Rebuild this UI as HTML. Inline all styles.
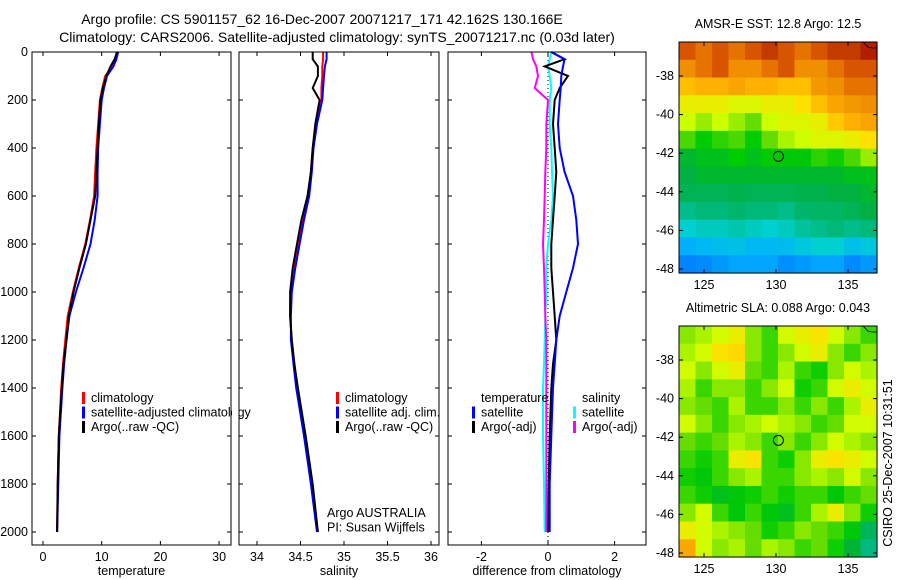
<!DOCTYPE html>
<html><head><meta charset="utf-8"><style>
body{margin:0;background:#fff;}
svg{display:block;font-family:"Liberation Sans",sans-serif;}
text{fill:#000;}
</style></head><body>
<svg id="fig" width="900" height="580" xmlns="http://www.w3.org/2000/svg">
<rect width="900" height="580" fill="#fff"/>
<text x="322" y="24" font-size="14" text-anchor="middle">Argo profile: CS 5901157_62 16-Dec-2007 20071217_171 42.162S 130.166E</text>
<text x="337" y="42" font-size="14" text-anchor="middle">Climatology: CARS2006. Satellite-adjusted climatology: synTS_20071217.nc (0.03d later)</text>
<g id="g"></g>
<text transform="translate(892,463) rotate(-90)" font-size="12.5" text-anchor="middle">CSIRO 25-Dec-2007 10:31:51</text>
</svg>
<script>
const depths=[0,30,60,100,150,200,300,400,500,600,700,800,900,1000,1100,1200,1300,1400,1600,1800,2000];
const tempClim=[12.6,12.3,11.8,10.6,10.1,9.7,9.4,9.1,8.9,8.7,8.0,7.2,6.1,5.1,4.2,3.8,3.4,3.1,2.7,2.5,2.4];
const tempSat=[12.8,12.5,12.0,10.9,10.4,10.0,9.7,9.4,9.3,9.3,8.8,8.1,6.9,5.6,4.5,4.0,3.6,3.3,2.8,2.6,2.4];
const tempArgo=[12.6,12.2,11.5,10.8,10.2,9.8,9.5,9.3,9.1,8.9,8.1,7.3,6.2,5.2,4.4,4.0,3.5,3.2,2.7,2.5,2.4];
const salClim=[34.76,34.76,34.75,34.75,34.74,34.74,34.68,34.64,34.62,34.59,34.53,34.48,34.43,34.39,34.38,34.40,34.43,34.46,34.55,34.63,34.70];
const salSat=[34.80,34.80,34.78,34.77,34.76,34.75,34.69,34.65,34.63,34.60,34.54,34.49,34.44,34.40,34.39,34.39,34.42,34.45,34.54,34.62,34.69];
const salArgo=[34.64,34.64,34.70,34.70,34.64,34.72,34.67,34.64,34.62,34.58,34.51,34.46,34.41,34.38,34.38,34.40,34.43,34.47,34.56,34.64,34.70];
const dTempSat=[0.1,0.5,0.45,0.4,0.38,0.35,0.3,0.35,0.5,0.75,0.85,0.9,0.75,0.55,0.35,0.25,0.2,0.15,0.1,0.05,0.05];
const dTempArgo=[0.1,0.5,-0.1,0.6,0.35,0.2,0.15,0.2,0.25,0.2,0.15,0.1,0.1,0.15,0.2,0.25,0.15,0.1,0.05,0.02,0.0];
const dSalSat=[0.1,0.05,0.0,0.05,0.1,0.05,0.05,0.1,0.12,0.15,0.1,0.0,-0.05,-0.05,-0.08,-0.1,-0.12,-0.15,-0.15,-0.12,-0.1];
const dSalArgo=[-0.5,-0.45,-0.35,-0.3,-0.4,0.0,-0.05,-0.05,-0.08,-0.1,-0.12,-0.15,-0.12,-0.1,-0.08,-0.05,-0.05,-0.05,-0.05,-0.05,-0.05];
const depthTicks=[0,200,400,600,800,1000,1200,1400,1600,1800,2000];
const tempTicks=[0,10,20,30];
const salTicks=[34,34.5,35,35.5,36];
const salTickLabels=["34","34.5","35","35.5","36"];
const diffTicks=[-2,0,2];
const lonTicks=[125,130,135];
const latTicks=[-38,-40,-42,-44,-46,-48];
const sstGrid=[
[0.9,0.85,0.9,0.85,0.9,0.95,0.9,0.85,0.9,0.95,0.95,1.0],
[0.8,0.85,0.9,0.8,0.8,0.85,0.9,0.8,0.8,0.85,0.9,0.9],
[0.7,0.72,0.72,0.75,0.72,0.72,0.7,0.7,0.78,0.8,0.85,0.85],
[0.62,0.62,0.62,0.6,0.6,0.62,0.62,0.65,0.7,0.75,0.78,0.8],
[0.58,0.55,0.58,0.55,0.52,0.58,0.6,0.6,0.62,0.68,0.72,0.75],
[0.5,0.45,0.48,0.5,0.45,0.52,0.56,0.58,0.6,0.6,0.62,0.65],
[0.4,0.42,0.42,0.45,0.42,0.45,0.44,0.44,0.48,0.46,0.5,0.55],
[0.38,0.4,0.4,0.4,0.4,0.4,0.4,0.4,0.4,0.4,0.42,0.42],
[0.35,0.35,0.35,0.36,0.35,0.35,0.35,0.36,0.36,0.38,0.38,0.4],
[0.28,0.3,0.3,0.32,0.3,0.3,0.28,0.32,0.33,0.33,0.35,0.38],
[0.2,0.22,0.22,0.24,0.22,0.2,0.22,0.26,0.28,0.3,0.28,0.3],
[0.12,0.14,0.15,0.16,0.14,0.14,0.15,0.18,0.2,0.2,0.16,0.18],
[0.04,0.05,0.08,0.1,0.1,0.1,0.06,0.08,0.1,0.1,0.05,0.08]];
const slaGrid=[
[.54,.56,.59,.62,.54,.49,.59,.62,.64,.59,.54,.49],
[.56,.59,.64,.66,.54,.49,.54,.59,.62,.54,.49,.54],
[.59,.54,.59,.62,.52,.49,.56,.49,.46,.54,.59,.56],
[.56,.49,.54,.54,.49,.54,.59,.46,.49,.59,.62,.59],
[.54,.52,.49,.56,.49,.49,.54,.49,.54,.49,.56,.62],
[.59,.54,.49,.54,.56,.59,.56,.54,.49,.52,.59,.59],
[.52,.49,.52,.56,.54,.49,.54,.49,.54,.59,.56,.54],
[.49,.46,.49,.62,.64,.49,.46,.54,.62,.64,.62,.59],
[.46,.44,.49,.54,.56,.49,.49,.54,.56,.54,.59,.54],
[.49,.46,.42,.44,.46,.49,.46,.49,.49,.44,.49,.52],
[.54,.59,.49,.44,.49,.44,.42,.49,.56,.62,.54,.46],
[.62,.59,.56,.54,.52,.46,.49,.54,.52,.49,.44,.34],
[.74,.59,.54,.56,.52,.56,.54,.49,.52,.46,.39,.29]];
const floatLon=130.166, floatLat=-42.162;

const NS="http://www.w3.org/2000/svg";
const G=document.getElementById('g');
function mk(tag,attrs,parent){const e=document.createElementNS(NS,tag);for(const k in attrs)e.setAttribute(k,attrs[k]);(parent||G).appendChild(e);return e;}
const yD=d=>52+d*0.24;
const yTop=52,yBot=545;
function panel(name,x0,x1,xs,ticks,labels,xlabel){
  const r=mk('rect',{x:x0,y:yTop,width:x1-x0,height:yBot-yTop,fill:'none',stroke:'#000','stroke-width':1});
  
  
  ticks.forEach((t,i)=>{const x=xs(t);
    mk('line',{x1:x,x2:x,y1:yBot,y2:yBot-4,stroke:'#000'});mk('line',{x1:x,x2:x,y1:yTop,y2:yTop+4,stroke:'#000'});
    const tx=mk('text',{x:x,y:yBot+16,'font-size':12.5,'text-anchor':'middle'});tx.textContent=labels[i];
    
    });
  depthTicks.forEach(d=>{mk('line',{x1:x0,x2:x0+4,y1:yD(d),y2:yD(d),stroke:'#000'});mk('line',{x1:x1,x2:x1-4,y1:yD(d),y2:yD(d),stroke:'#000'});});
  const xl=mk('text',{x:(x0+x1)/2,y:yBot+30,'font-size':12.5,'text-anchor':'middle'});xl.textContent=xlabel;
  
  
}
function drawLine(name,xs,vals,color,w){
  const pts=vals.map((v,i)=>xs(v).toFixed(1)+','+yD(depths[i]).toFixed(1)).join(' ');
  const p=mk('polyline',{points:pts,fill:'none',stroke:color,'stroke-width':w||2});
  
  
}
function legend(name,x,y,items){
  items.forEach((it,i)=>{const yy=y+i*14.5;
    if(it[1])mk('rect',{x:x-9,y:yy-10,width:3,height:12,fill:it[1]});
    const t=mk('text',{x:x,y:yy,'font-size':12.5});t.textContent=it[0];
    
    });
}
depthTicks.forEach(d=>{const t=mk('text',{x:28,y:yD(d)+4,'font-size':12.5,'text-anchor':'end'});t.textContent=d;
  
  });
const xT=v=>43+v*5.87;
drawLine('temp-climatology-line',xT,tempClim,'#f00');
drawLine('temp-satellite-line',xT,tempSat,'#00f');
drawLine('temp-argo-line',xT,tempArgo,'#000');
panel('temperature-panel',32,231,xT,tempTicks,tempTicks.map(String),'temperature');
legend('temperature-legend',91,402,[['climatology','#f00'],['satellite-adjusted climatology','#00f'],['Argo(..raw -QC)','#000']]);
mk('rect',{x:232,y:380,width:7,height:60,fill:'#fff'});
const xS=v=>257+(v-34)*87;
drawLine('sal-climatology-line',xS,salClim,'#f00');
drawLine('sal-satellite-line',xS,salSat,'#00f');
drawLine('sal-argo-line',xS,salArgo,'#000');
panel('salinity-panel',239,439,xS,salTicks,salTickLabels,'salinity');
legend('salinity-legend',345,402,[['climatology','#f00'],['satellite adj. clim.','#00f'],['Argo(..raw -QC)','#000']]);
legend('credit',327,517,[['Argo AUSTRALIA',null],['PI: Susan Wijffels',null]]);
const xF=v=>548+v*33.3;
mk('line',{x1:548,x2:548,y1:yTop,y2:yBot,stroke:'#000','stroke-dasharray':'1,3'});
drawLine('dsal-satellite-line',xF,dSalSat,'#0ff');
drawLine('dsal-argo-line',xF,dSalArgo,'#f0f');
drawLine('dtemp-argo-line',xF,dTempArgo,'#000');
drawLine('dtemp-satellite-line',xF,dTempSat,'#00f');
panel('difference-panel',448,646,xF,diffTicks,diffTicks.map(String),'difference from climatology');
legend('diff-temp-legend',481,402,[['temperature',null],['satellite','#00f'],['Argo(-adj)','#000']]);
legend('diff-sal-legend',582,402,[['salinity',null],['satellite','#0ff'],['Argo(-adj)','#f0f']]);
const stops=[[0,[0,110,255]],[0.12,[0,176,255]],[0.2,[0,208,208]],[0.3,[0,184,120]],[0.38,[0,176,64]],[0.45,[0,204,0]],[0.52,[102,221,0]],[0.58,[204,255,0]],[0.65,[255,224,0]],[0.72,[255,176,0]],[0.8,[240,144,0]],[0.88,[224,96,0]],[1,[176,32,0]]];
function cmap(v){v=Math.max(0,Math.min(1,v));for(let i=1;i<stops.length;i++){if(v<=stops[i][0]){const a=stops[i-1],b=stops[i],f=(v-a[0])/(b[0]-a[0]);const c=a[1].map((x,k)=>Math.round(x+(b[1][k]-x)*f));return 'rgb('+c.join(',')+')';}}return 'rgb(176,32,0)';}
function drawMap(name,y0,y1,grid,title){
  const x0=679,x1=877;
  const lonX=l=>776+(l-130)*14.4;
  const latY=l=>(y0+34)+(-38-l)*19.3;
  const rows=grid.length,cols=grid[0].length,cw=(x1-x0)/cols,ch=(y1-y0)/rows;
  grid.forEach((row,r)=>row.forEach((v,c)=>{const cell=mk('rect',{x:x0+c*cw,y:y0+r*ch,width:cw+0.6,height:ch+0.6,fill:cmap(v)});
    
    }));
  mk('rect',{x:x0,y:y0,width:x1-x0,height:y1-y0,fill:'none',stroke:'#000'});
  mk('path',{d:`M${x1-14},${y0} L${x1-9},${y0+5} L${x1-5},${y0+6} L${x1},${y0+6}`,fill:'none',stroke:'#000','stroke-width':0.8});
  lonTicks.forEach(l=>{const x=lonX(l);mk('line',{x1:x,x2:x,y1:y1,y2:y1-4,stroke:'#000'});mk('line',{x1:x,x2:x,y1:y0,y2:y0+4,stroke:'#000'});
    const t=mk('text',{x:x,y:y1+16,'font-size':12.5,'text-anchor':'middle'});t.textContent=l;
    
    });
  latTicks.forEach(l=>{const y=latY(l);mk('line',{x1:x0,x2:x0+4,y1:y,y2:y,stroke:'#000'});mk('line',{x1:x1,x2:x1-4,y1:y,y2:y,stroke:'#000'});
    const t=mk('text',{x:x0-5,y:y+4,'font-size':12.5,'text-anchor':'end'});t.textContent=l;
    
    });
  const c=mk('circle',{cx:lonX(floatLon),cy:latY(floatLat),r:5,fill:'none',stroke:'#000'});
  
  
  const t=mk('text',{x:(x0+x1)/2,y:y0-14,'font-size':12.5,'text-anchor':'middle'});t.textContent=title;
  
  
}
drawMap('sst-map',42,273,sstGrid,'AMSR-E SST: 12.8 Argo: 12.5');
drawMap('sla-map',326,557,slaGrid,'Altimetric SLA: 0.088 Argo: 0.043');
</script>
</body></html>
